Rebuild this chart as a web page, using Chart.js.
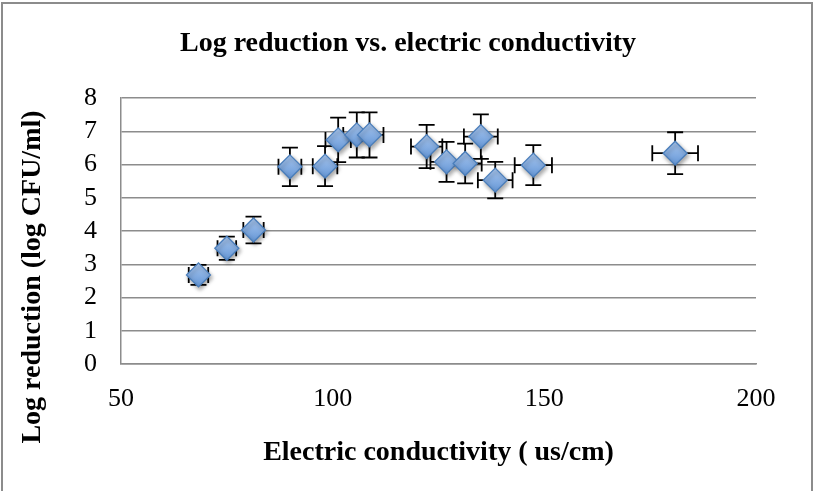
<!DOCTYPE html>
<html>
<head>
<meta charset="utf-8">
<script src="https://cdn.jsdelivr.net/npm/chart.js@4.4.1/dist/chart.umd.min.js"></script>
<style>
  html, body { margin: 0; padding: 0; background: #fff; }
  #wrap { position: relative; width: 813px; height: 491px; overflow: hidden; }
  #frame {
    position: absolute; left: 1px; top: 2px; width: 812px; height: 560px;
    border: 2px solid #8c8c8c; box-sizing: border-box; pointer-events: none;
  }
</style>
</head>
<body>
<div id="wrap">
  <canvas id="chart" width="813" height="491"></canvas>
  <div id="frame"></div>
</div>
<script>
// measurements: conductivity (us/cm) and log reduction, each with its error
const conductivity    = [68.3, 75.0, 81.3, 89.9, 98.2, 101.3, 105.7, 108.7, 122.2, 126.9, 131.3, 135.0, 138.4, 147.4, 180.9];
const conductivityErr = [2.3, 2.2, 2.4, 2.7, 2.9, 3.0, 3.2, 3.3, 3.7, 3.8, 3.9, 4.0, 4.1, 4.4, 5.4];
const logReduction    = [2.68, 3.48, 4.03, 5.93, 5.95, 6.74, 6.89, 6.89, 6.54, 6.08, 6.03, 6.84, 5.53, 5.98, 6.34];
const logReductionErr = [0.3, 0.35, 0.4, 0.58, 0.6, 0.67, 0.68, 0.68, 0.65, 0.6, 0.6, 0.67, 0.55, 0.6, 0.63];

const xRange = [50, 200];
const xStep = 50;
const yRange = [0, 8];
const yStep = 1;

const chartTitle = 'Log reduction vs. electric conductivity';
const xTitle = 'Electric conductivity ( us/cm)';
const yTitle = 'Log reduction (log CFU/ml)';

const SERIF = '"Liberation Serif", "Times New Roman", serif';
const GRID = '#8c8c8c';

// whiskers go under the diamonds
const errorBars = {
  id: 'errorBars',
  beforeDatasetsDraw(chart) {
    const { ctx, scales: { x, y } } = chart;
    const cap = 8;
    ctx.save();
    ctx.strokeStyle = '#000';
    ctx.lineWidth = 1.8;
    conductivity.forEach((cx, i) => {
      const px = x.getPixelForValue(cx);
      const py = y.getPixelForValue(logReduction[i]);
      const xl = x.getPixelForValue(cx - conductivityErr[i]);
      const xr = x.getPixelForValue(cx + conductivityErr[i]);
      const yt = y.getPixelForValue(logReduction[i] + logReductionErr[i]);
      const yb = y.getPixelForValue(logReduction[i] - logReductionErr[i]);
      ctx.beginPath();
      ctx.moveTo(xl, py); ctx.lineTo(xr, py);
      ctx.moveTo(xl, py - cap); ctx.lineTo(xl, py + cap);
      ctx.moveTo(xr, py - cap); ctx.lineTo(xr, py + cap);
      ctx.moveTo(px, yt); ctx.lineTo(px, yb);
      ctx.moveTo(px - cap, yt); ctx.lineTo(px + cap, yt);
      ctx.moveTo(px - cap, yb); ctx.lineTo(px + cap, yb);
      ctx.stroke();
    });
    ctx.restore();
  }
};

// soft drop shadow on the markers
const markerShadow = {
  id: 'markerShadow',
  beforeDatasetDraw(chart) {
    const ctx = chart.ctx;
    ctx.save();
    ctx.shadowColor = 'rgba(0, 0, 0, 0.35)';
    ctx.shadowBlur = 4;
    ctx.shadowOffsetX = 1.5;
    ctx.shadowOffsetY = 2.5;
  },
  afterDatasetDraw(chart) {
    chart.ctx.restore();
  }
};

// chart title across the whole canvas, y title a bit below the plot centre
const titles = {
  id: 'titles',
  afterDraw(chart) {
    const ctx = chart.ctx;
    ctx.save();
    ctx.font = 'bold 28px ' + SERIF;
    ctx.fillStyle = '#000';
    ctx.textAlign = 'center';
    ctx.textBaseline = 'middle';
    ctx.fillText(chartTitle, 408, 44);
    ctx.translate(33, 277);
    ctx.rotate(-Math.PI / 2);
    ctx.fillText(yTitle, 0, 0);
    ctx.restore();
  }
};

function diamondFill(context) {
  const chart = context.chart;
  const yScale = chart.scales.y;
  const py = yScale && context.parsed ? yScale.getPixelForValue(context.parsed.y) : NaN;
  if (!Number.isFinite(py)) return '#84acdf';
  const g = chart.ctx.createLinearGradient(0, py - 12, 0, py + 12);
  g.addColorStop(0, '#a9c7ef');
  g.addColorStop(1, '#6496d6');
  return g;
}

new Chart(document.getElementById('chart'), {
  type: 'scatter',
  data: {
    datasets: [{
      label: 'Log reduction',
      data: conductivity.map((v, i) => ({ x: v, y: logReduction[i] })),
      pointStyle: 'rectRot',
      pointRadius: 12,
      pointHoverRadius: 12,
      pointBorderWidth: 1.3,
      pointBorderColor: '#4a7ebb',
      pointBackgroundColor: diamondFill,
    }],
  },
  options: {
    responsive: false,
    animation: false,
    events: [],
    layout: { padding: { left: 0, right: 57, top: 98, bottom: 0 } },
    plugins: {
      legend: { display: false },
      tooltip: { enabled: false },
      title: { display: false },
    },
    scales: {
      x: {
        type: 'linear',
        min: xRange[0],
        max: xRange[1],
        ticks: {
          stepSize: xStep,
          autoSkip: false,
          color: '#000',
          padding: 12,
          maxRotation: 0,
          font: { family: SERIF, size: 26 },
        },
        grid: { display: false },
        border: { display: true, color: GRID, width: 1.5 },
        title: {
          display: true,
          text: xTitle,
          color: '#000',
          font: { family: SERIF, size: 28, weight: 'bold' },
          padding: { top: 0, bottom: 21 },
        },
        afterFit(scale) { scale.height = 127; },
      },
      y: {
        min: yRange[0],
        max: yRange[1],
        ticks: {
          stepSize: yStep,
          autoSkip: false,
          color: '#000',
          padding: 24,
          font: { family: SERIF, size: 26 },
        },
        grid: { color: GRID, lineWidth: 1.5, drawTicks: false },
        border: { display: true, color: GRID, width: 1.5 },
        afterFit(scale) { scale.width = 121; },
      },
    },
  },
  plugins: [errorBars, markerShadow, titles],
});
</script>
</body>
</html>
